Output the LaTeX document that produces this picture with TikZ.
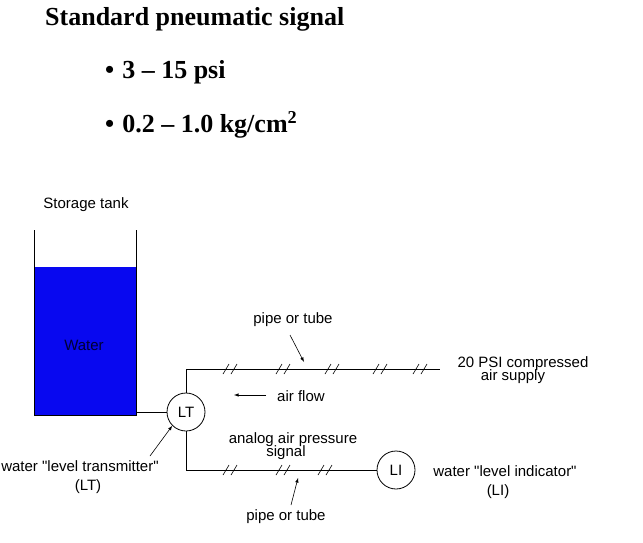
\documentclass[tikz,border=0pt]{standalone}
\usepackage{fontspec}
\setmainfont{Liberation Serif}
\newfontfamily\sans{Liberation Sans}
\definecolor{waterblue}{RGB}{8,8,240}
\begin{document}
\begin{tikzpicture}[x=1pt,y=-1pt,
  lbl/.style={font=\sans\fontsize{15}{15}\selectfont,inner sep=0pt},
  inst/.style={circle,draw,thick,minimum size=38pt,inner sep=0pt,font=\sans\fontsize{15}{15}\selectfont},
  pipe/.style={line width=0.8pt},
  hashm/.style={line width=0.6pt},
  ptr/.style={-latex,line width=0.6pt},
  ttl/.style={font=\bfseries\fontsize{26}{28}\selectfont,inner sep=0pt,anchor=west}]
\useasboundingbox (0,0) rectangle (643,543);
\clip (0,0) rectangle (643,543);
\node[ttl] (title) at (45,19) {Standard pneumatic signal};
\node[ttl] (b1) at (105,72) {•\hspace{8pt}3 – 15 psi};
\node[ttl] (b2) at (105,125) {•\hspace{8pt}0.2 – 1.0 kg/cm\textsuperscript{2}};
% tank
\fill[waterblue] (34,267) rectangle (136,415);
\draw[pipe] (34,230) -- (34,415) -- (136,415) -- (136,230);
\node[lbl] (st) at (86,205) {Storage tank};
\node[lbl,text=black!80!blue] (w) at (84,345) {Water};
% instruments
\node[inst] (LT) at (186,412) {LT};
\node[inst] (LI) at (396,470) {LI};
\coordinate (tk) at (136,412);
\coordinate (sup) at (440,369);
\draw[pipe] (tk) -- (LT.west);
\draw[pipe] (LT.north) |- (sup);
\draw[pipe] (LT.south) |- (LI.west);
\foreach \x in {230,283,332,380,420}{
  \draw[hashm] (\x-7,374) -- (\x-1,364) (\x+1,374) -- (\x+7,364);}
\foreach \x in {230,283,325}{
  \draw[hashm] (\x-7,475) -- (\x-1,465) (\x+1,475) -- (\x+7,465);}
\node[lbl] (sup1) at (523,364) {20 PSI compressed};
\node[lbl] (sup2) at (513,377) {air supply};
\node[lbl] (p1) at (293,320) {pipe or tube};
\coordinate (p1a) at (290,335); \coordinate (p1b) at (304,362);
\draw[ptr] (p1a) -- (p1b);
\node[lbl] (af) at (301,396) {air flow};
\coordinate (afa) at (266,395); \coordinate (afb) at (234,395);
\draw[ptr] (afa) -- (afb);
\node[lbl] (an1) at (293,440) {analog air pressure};
\node[lbl] (an2) at (286,453) {signal};
\node[lbl] (p2) at (286,517) {pipe or tube};
\coordinate (p2a) at (291,505); \coordinate (p2b) at (298,478);
\draw[ptr] (p2a) -- (p2b);
\node[lbl] (li1) at (505,471) {water "level indicator"};
\node[lbl] (li2) at (498,492) {(LI)};
\node[lbl] (lt1) at (80,466) {water "level transmitter"};
\node[lbl] (lt2) at (88,487) {(LT)};
\coordinate (lta) at (150,456);
\draw[ptr] (lta) -- (LT.225);
\end{tikzpicture}
\end{document}
